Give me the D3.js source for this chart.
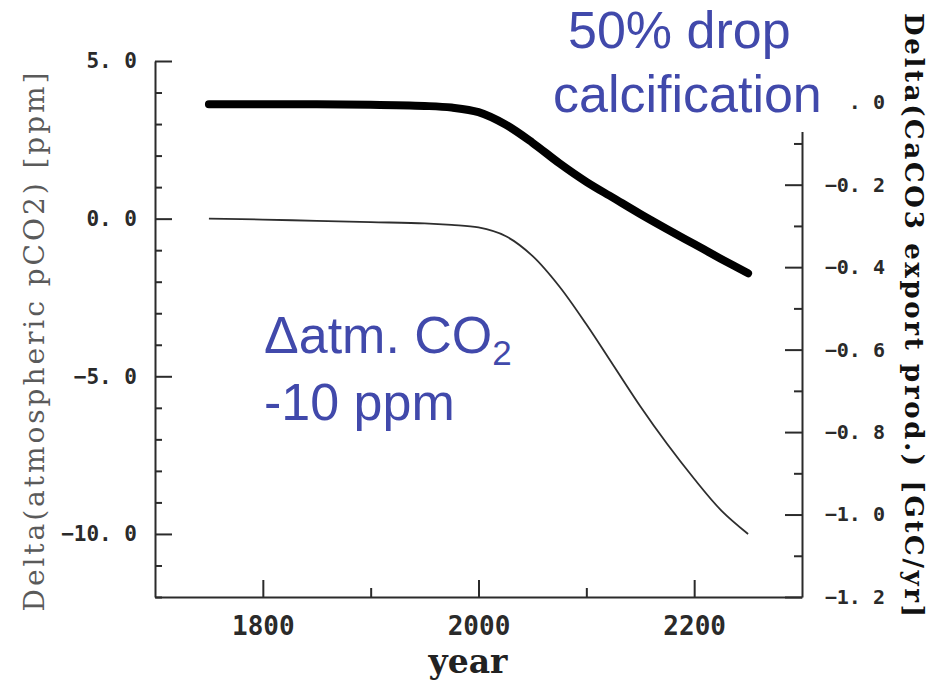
<!DOCTYPE html>
<html>
<head>
<meta charset="utf-8">
<script src="https://cdn.jsdelivr.net/npm/d3@7"></script>
<style>
  body { margin: 0; background: #fff; }
  svg { display: block; }
</style>
</head>
<body>
<div id="chart"></div>
<script>
// values
var years = [1750, 1800, 1850, 1900, 1950, 1975, 2000, 2025, 2050, 2075, 2100, 2125, 2150, 2175, 2200, 2225, 2250];
// Delta(atmospheric pCO2) [ppm], left axis
var co2Delta = [0.0, -0.03, -0.07, -0.11, -0.15, -0.2, -0.28, -0.55, -1.18, -2.15, -3.35, -4.65, -5.95, -7.15, -8.25, -9.25, -10.0];
// Delta(CaCO3 export prod.) [GtC/yr], right axis
var caco3Delta = [-0.005, -0.005, -0.005, -0.006, -0.009, -0.013, -0.024, -0.054, -0.098, -0.148, -0.193, -0.232, -0.271, -0.308, -0.344, -0.38, -0.415];

var xMajor = [1800, 2000, 2200], xMinor = [1900, 2100];
var leftMajor = [-10, -5, 0, 5];
var leftMinor = [-12, -11, -9, -8, -7, -6, -4, -3, -2, -1, 1, 2, 3, 4];
var rightMajor = [-1.2, -1.0, -0.8, -0.6, -0.4, -0.2, 0.0];
var rightMinor = [-1.1, -0.9, -0.7, -0.5, -0.3, -0.1, 0.1];

var width = 946, height = 685;
var plotL = 155, plotR = 802, plotT = 61, plotB = 597;
var axisColor = "#2b2b2b";
var blue = "#4149ab";

var svg = d3.select("#chart").append("svg")
    .attr("width", width)
    .attr("height", height);

var x = d3.scaleLinear().domain([1700, 2300]).range([plotL, plotR]);
var yL = d3.scaleLinear().domain([-12, 5]).range([plotB, plotT]);
var yR = d3.scaleLinear().domain([-1.2, 0.1]).range([plotB, plotT]);

var fmt = function (d) { return d3.format(".1f")(d).replace(".", ". "); };

function styleAxis(g) {
    g.selectAll("path, line").attr("stroke", axisColor).attr("stroke-width", 2);
    g.selectAll("text")
        .attr("fill", "#2a2a2a")
        .style("font-family", "'DejaVu Sans Mono', 'Liberation Mono', monospace")
        .style("font-weight", "bold");
}

/* left axis */
var gL = svg.append("g").attr("transform", "translate(" + plotL + ",0)")
    .call(d3.axisLeft(yL).tickValues(leftMajor).tickFormat(fmt).tickSize(-17).tickSizeOuter(0).tickPadding(18))
    .call(styleAxis);
gL.selectAll("text").style("font-size", "21px");
svg.append("g").attr("transform", "translate(" + plotL + ",0)")
    .call(d3.axisLeft(yL).tickValues(leftMinor).tickFormat("").tickSize(-7).tickSizeOuter(0))
    .call(styleAxis)
    .select(".domain").remove();

/* bottom axis */
var gB = svg.append("g").attr("transform", "translate(0," + plotB + ")")
    .call(d3.axisBottom(x).tickValues(xMajor).tickFormat(d3.format("d")).tickSize(-17).tickSizeOuter(0).tickPadding(20))
    .call(styleAxis);
gB.selectAll("text").style("font-size", "26px");
svg.append("g").attr("transform", "translate(0," + plotB + ")")
    .call(d3.axisBottom(x).tickValues(xMinor).tickFormat("").tickSize(-9).tickSizeOuter(0))
    .call(styleAxis)
    .select(".domain").remove();

/* right axis */
var gR = svg.append("g").attr("transform", "translate(" + plotR + ",0)")
    .call(d3.axisRight(yR).tickValues(rightMajor).tickFormat(fmt).tickSize(-17).tickSizeOuter(0).tickPadding(21))
    .call(styleAxis);
gR.selectAll("text").style("font-size", "20px")
    .attr("text-anchor", "end").attr("x", 83);
svg.append("g").attr("transform", "translate(" + plotR + ",0)")
    .call(d3.axisRight(yR).tickValues(rightMinor).tickFormat("").tickSize(-8).tickSizeOuter(0))
    .call(styleAxis)
    .select(".domain").remove();

/* curves */
var rows = years.map(function (yr, i) { return { year: yr, co2: co2Delta[i], caco3: caco3Delta[i] }; });

svg.append("path")
    .datum(rows)
    .attr("fill", "none")
    .attr("stroke", "#2e2e2e")
    .attr("stroke-width", 1.8)
    .attr("d", d3.line().curve(d3.curveCatmullRom.alpha(0.5))
        .x(function (d) { return x(d.year); })
        .y(function (d) { return yL(d.co2); }));

svg.append("path")
    .datum(rows)
    .attr("fill", "none")
    .attr("stroke", "#000")
    .attr("stroke-width", 8)
    .attr("stroke-linecap", "round")
    .attr("stroke-linejoin", "round")
    .attr("d", d3.line().curve(d3.curveCatmullRom.alpha(0.5))
        .x(function (d) { return x(d.year); })
        .y(function (d) { return yR(d.caco3); }));

/* axis titles */
svg.append("text")
    .attr("transform", "translate(44,342) rotate(-90)")
    .attr("text-anchor", "middle")
    .attr("fill", "#5a5a5a")
    .attr("textLength", 539)
    .style("font-family", "'DejaVu Serif', serif")
    .style("font-size", "28px")
    .text("Delta(atmospheric pCO2) [ppm]");

svg.append("text")
    .attr("transform", "translate(905,315) rotate(90)")
    .attr("text-anchor", "middle")
    .attr("fill", "#111")
    .attr("textLength", 604)
    .style("font-family", "'DejaVu Serif', serif")
    .style("font-weight", "bold")
    .style("font-size", "26px")
    .text("Delta(CaCO3 export prod.) [GtC/yr]");

svg.append("text")
    .attr("x", 468).attr("y", 673)
    .attr("text-anchor", "middle")
    .attr("fill", "#222")
    .style("font-family", "'DejaVu Serif', serif")
    .style("font-weight", "bold")
    .style("font-size", "33px")
    .text("year");

/* annotations */
svg.append("rect")
    .attr("x", 540).attr("y", 0)
    .attr("width", 312).attr("height", 132)
    .attr("fill", "#fff");

var note = svg.append("g")
    .style("font-family", "'Liberation Sans', Arial, sans-serif")
    .style("font-size", "52px")
    .attr("fill", blue);

note.append("text").attr("x", 568).attr("y", 48).text("50% drop");
note.append("text").attr("x", 553).attr("y", 112).text("calcification");

var t1 = note.append("text").attr("x", 264).attr("y", 353);
t1.append("tspan").text("\u0394atm. CO");
t1.append("tspan").attr("dy", 12).style("font-size", "35px").text("2");
note.append("text").attr("x", 264).attr("y", 420).text("-10 ppm");
</script>
</body>
</html>
